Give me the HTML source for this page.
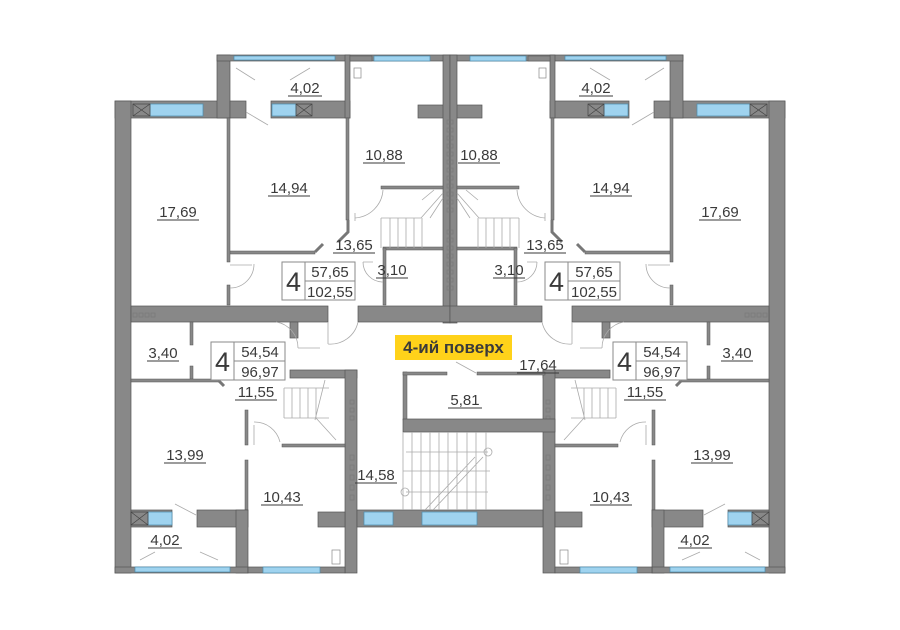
<!DOCTYPE html>
<html><head><meta charset="utf-8"><style>
html,body{margin:0;padding:0;background:#fff;}
svg{display:block;}
text{font-family:"Liberation Sans","DejaVu Sans",sans-serif;fill:#3a3a3a;}
.w{fill:#888;stroke:#555;stroke-width:0.7;}
.h{fill:#888;stroke:#555;stroke-width:0.5;}
.b{fill:#9fd3ef;stroke:#4a8db0;stroke-width:0.7;}
.l{stroke:#aaa;stroke-width:0.8;fill:none;}
.u{stroke:#3a3a3a;stroke-width:1;}
</style></head><body>
<svg width="900" height="630" viewBox="0 0 900 630" xmlns="http://www.w3.org/2000/svg">
<defs>
<g id="half">
  <rect class="w" x="115" y="101" width="115" height="17"/>
  <rect class="b" x="150" y="104" width="53" height="12"/>
  <rect x="133" y="104" width="17" height="12" fill="#888" stroke="#444" stroke-width="0.7"/>
  <path d="M133 104 L150 116 M150 104 L133 116" stroke="#444" stroke-width="0.7"/>
  <rect class="w" x="217" y="55" width="13" height="63"/>
  <rect class="w" x="217" y="55" width="233" height="6"/>
  <rect class="b" x="234" y="56" width="101" height="4"/>
  <rect class="w" x="230" y="101" width="16" height="17"/>
  <rect class="w" x="271" y="101" width="79" height="17"/>
  <rect class="b" x="272" y="104" width="24" height="12"/>
  <path d="M296 104 h16 v12 h-16 z M296 104 L312 116 M312 104 L296 116" stroke="#444" stroke-width="0.7" fill="none"/>
  <rect class="w" x="345" y="55" width="5" height="63"/>
  <rect class="h" x="346" y="118" width="3" height="102"/>
  <path d="M348 220 L348 232 L338 242" stroke="#777" stroke-width="3" fill="none"/>
  <line class="l" x1="246" y1="112" x2="268" y2="125"/>
  <path class="l" d="M236 68 L255 80 M290 80 L310 68"/>
  <rect class="b" x="374" y="56" width="56" height="5"/>
  <rect class="h" x="350" y="56" width="22" height="5"/>
  <rect class="w" x="418" y="105" width="32" height="13"/>
  <rect class="w" x="443" y="55" width="7" height="268"/>
  <rect x="354" y="68" width="7" height="10" fill="none" stroke="#888" stroke-width="0.7"/>
  <rect class="h" x="381" y="186" width="62" height="3"/>
  <rect class="h" x="383" y="247" width="60" height="3"/>
  <rect class="h" x="383" y="248" width="3" height="57"/>
  <path class="l" d="M381 218 h40 M381 218 v30 M390 218 v30 M398 218 v30 M406 218 v30 M414 218 v30 M422 218 v30 M430 218 l13 -20 M421 218 l22 -25 M422 200 l12 -10"/>
  <path class="l" d="M355 213 v8 M355 218 a30 30 0 0 0 28 -28"/>
  <rect class="h" x="229" y="251" width="86" height="3"/>
  <path d="M315 252 L323 244" stroke="#777" stroke-width="3"/>
  <rect class="h" x="227" y="118" width="3" height="144"/>
  <rect class="h" x="227" y="285" width="3" height="20"/>
  <path class="l" d="M230 265 h22 M230 288 a24 24 0 0 0 24 -24"/>
  <path class="l" d="M363 262 a20 20 0 0 0 20 20 M363 262 h10"/>
  <rect class="w" x="115" y="101" width="16" height="472"/>
  <rect class="w" x="131" y="306" width="197" height="16"/>
  <rect class="w" x="358" y="306" width="92" height="16"/>
  <rect class="h" x="190" y="322" width="3" height="23"/>
  <rect class="h" x="190" y="366" width="3" height="14"/>
  <rect class="h" x="131" y="379" width="88" height="3"/>
  <path d="M219 381 L224 386" stroke="#777" stroke-width="3"/>
  <rect class="w" x="290" y="322" width="8" height="16"/>
  <rect class="w" x="290" y="370" width="67" height="8"/>
  <rect class="w" x="345" y="370" width="12" height="203"/>
  <rect class="h" x="282" y="444" width="63" height="3"/>
  <path class="l" d="M284 388 h45 M284 388 v30 M292 388 v30 M300 388 v30 M308 388 v30 M316 388 v30 M284 418 h45 M316 418 l20 22 M325 380 l-10 40"/>
  <path class="l" d="M298 348 h22 M298 348 a26 26 0 0 0 -22 -26 M328 322 v22 M328 344 a28 28 0 0 0 30 -22"/>
  <rect class="h" x="245" y="410" width="3" height="35"/>
  <rect class="h" x="245" y="460" width="3" height="50"/>
  <path class="l" d="M254 425 v20 M254 422 a26 26 0 0 1 26 20"/>
  <rect class="w" x="131" y="510" width="41" height="17"/>
  <rect class="b" x="148" y="512" width="24" height="13"/>
  <path d="M131 512 h17 v13 h-17 z M131 512 L148 525 M148 512 L131 525" stroke="#444" stroke-width="0.7" fill="none"/>
  <rect class="w" x="197" y="510" width="51" height="17"/>
  <line class="l" x1="175" y1="504" x2="196" y2="515"/>
  <rect class="w" x="236" y="510" width="12" height="63"/>
  <rect class="w" x="115" y="567" width="133" height="6"/>
  <rect class="b" x="135" y="567" width="95" height="5"/>
  <path class="l" d="M140 560 L155 552 M200 552 L218 560"/>
  <rect class="w" x="248" y="567" width="97" height="6"/>
  <rect class="b" x="263" y="567" width="57" height="6"/>
  <rect class="w" x="318" y="512" width="27" height="15"/>
  <rect x="332" y="550" width="8" height="14" fill="#fff" stroke="#888" stroke-width="0.7"/>
  <g fill="none" stroke="#777" stroke-width="0.6">
    <rect x="350" y="400" width="4" height="4"/><rect x="350" y="408" width="4" height="4"/><rect x="350" y="416" width="4" height="4"/>
    <rect x="350" y="455" width="4" height="5"/><rect x="350" y="465" width="4" height="5"/><rect x="350" y="475" width="4" height="5"/><rect x="350" y="485" width="4" height="5"/><rect x="350" y="495" width="4" height="5"/>
    <rect x="133" y="313" width="4" height="4"/><rect x="139" y="313" width="4" height="4"/><rect x="145" y="313" width="4" height="4"/><rect x="151" y="313" width="4" height="4"/>
  </g>
</g>
</defs>
<use href="#half"/>
<use href="#half" transform="translate(900,0) scale(-1,1)"/>
<rect class="w" x="357" y="510" width="186" height="17"/>
<rect class="b" x="364" y="512" width="29" height="13"/>
<rect class="b" x="422" y="512" width="55" height="13"/>
<rect class="h" x="403" y="372" width="4" height="48"/>
<rect class="h" x="403" y="372" width="44" height="3"/>
<rect class="h" x="477" y="372" width="68" height="3"/>
<rect class="w" x="403" y="419" width="152" height="13"/>
<line class="l" x1="456" y1="362" x2="476" y2="373"/>
<g class="l">
  <path d="M403 432 v78 M412 432 v78 M421 432 v78 M430 432 v78 M439 432 v78 M448 432 v78 M457 432 v78 M467 432 v78 M476 432 v78 M486 432 v78 M403 471 h87 M406 452 h82 M406 492 h82 M425 510 l50 -53 M433 510 l50 -53"/>
  <circle cx="488" cy="452" r="4"/><circle cx="405" cy="492" r="4"/>
</g>
<g fill="none" stroke="#777" stroke-width="0.6">
  <rect x="447" y="120" width="6" height="4"/><rect x="447" y="128" width="6" height="4"/><rect x="447" y="136" width="6" height="4"/><rect x="447" y="144" width="6" height="4"/><rect x="447" y="152" width="6" height="4"/><rect x="447" y="160" width="6" height="4"/><rect x="447" y="168" width="6" height="4"/><rect x="447" y="176" width="6" height="4"/><rect x="447" y="184" width="6" height="4"/><rect x="447" y="192" width="6" height="4"/><rect x="447" y="200" width="6" height="4"/><rect x="447" y="208" width="6" height="4"/><rect x="447" y="230" width="6" height="4"/><rect x="447" y="238" width="6" height="4"/><rect x="447" y="246" width="6" height="4"/><rect x="447" y="254" width="6" height="4"/><rect x="447" y="262" width="6" height="4"/><rect x="447" y="270" width="6" height="4"/><rect x="447" y="278" width="6" height="4"/><rect x="447" y="286" width="6" height="4"/>
</g>
<g fill="#fff" stroke="#8a8a8a" stroke-width="1">
  <rect x="282" y="262" width="73" height="38"/><line x1="305" y1="262" x2="305" y2="300"/><line x1="305" y1="281" x2="355" y2="281"/>
  <rect x="545" y="262" width="75" height="38"/><line x1="568" y1="262" x2="568" y2="300"/><line x1="568" y1="281" x2="620" y2="281"/>
  <rect x="211" y="342" width="74" height="38"/><line x1="234" y1="342" x2="234" y2="380"/><line x1="234" y1="361" x2="285" y2="361"/>
  <rect x="613" y="342" width="74" height="38"/><line x1="636" y1="342" x2="636" y2="380"/><line x1="636" y1="361" x2="687" y2="361"/>
</g>
<g font-size="27" text-anchor="middle">
  <text x="293.5" y="291">4</text><text x="556.5" y="291">4</text><text x="222.5" y="371">4</text><text x="624.5" y="371">4</text>
</g>
<g font-size="15" text-anchor="middle">
  <text x="330" y="277">57,65</text><text x="330" y="297">102,55</text>
  <text x="594" y="277">57,65</text><text x="594" y="297">102,55</text>
  <text x="260" y="357">54,54</text><text x="260" y="377">96,97</text>
  <text x="662" y="357">54,54</text><text x="662" y="377">96,97</text>
</g>
<g font-size="15" text-anchor="middle">
  <text x="305" y="93">4,02</text><text x="596" y="93">4,02</text>
  <text x="289" y="193">14,94</text><text x="611" y="193">14,94</text>
  <text x="384" y="160">10,88</text><text x="479" y="160">10,88</text>
  <text x="178" y="217">17,69</text><text x="720" y="217">17,69</text>
  <text x="354" y="250">13,65</text><text x="545" y="250">13,65</text>
  <text x="392" y="275">3,10</text><text x="509" y="275">3,10</text>
  <text x="163" y="358">3,40</text><text x="737" y="358">3,40</text>
  <text x="256" y="397">11,55</text><text x="645" y="397">11,55</text>
  <text x="185" y="460">13,99</text><text x="712" y="460">13,99</text>
  <text x="282" y="502">10,43</text><text x="611" y="502">10,43</text>
  <text x="165" y="545">4,02</text><text x="695" y="545">4,02</text>
  <text x="376" y="480">14,58</text>
  <text x="465" y="405">5,81</text>
  <text x="538" y="370">17,64</text>
</g>
<g class="u">
  <line x1="288" y1="96" x2="322" y2="96"/><line x1="579" y1="96" x2="613" y2="96"/>
  <line x1="268" y1="196" x2="310" y2="196"/><line x1="590" y1="196" x2="632" y2="196"/>
  <line x1="363" y1="163" x2="405" y2="163"/><line x1="458" y1="163" x2="500" y2="163"/>
  <line x1="157" y1="220" x2="199" y2="220"/><line x1="699" y1="220" x2="741" y2="220"/>
  <line x1="333" y1="253" x2="375" y2="253"/><line x1="524" y1="253" x2="566" y2="253"/>
  <line x1="376" y1="278" x2="408" y2="278"/><line x1="493" y1="278" x2="525" y2="278"/>
  <line x1="147" y1="361" x2="179" y2="361"/><line x1="721" y1="361" x2="753" y2="361"/>
  <line x1="235" y1="400" x2="277" y2="400"/><line x1="624" y1="400" x2="666" y2="400"/>
  <line x1="164" y1="463" x2="206" y2="463"/><line x1="691" y1="463" x2="733" y2="463"/>
  <line x1="261" y1="505" x2="303" y2="505"/><line x1="590" y1="505" x2="632" y2="505"/>
  <line x1="148" y1="548" x2="182" y2="548"/><line x1="678" y1="548" x2="712" y2="548"/>
  <line x1="355" y1="483" x2="397" y2="483"/><line x1="448" y1="408" x2="482" y2="408"/>
  <line x1="517" y1="373" x2="559" y2="373"/>
</g>
<rect x="395" y="335" width="117" height="25" fill="#ffd21a"/>
<text x="453.5" y="353" font-size="17" font-weight="bold" text-anchor="middle" fill="#222">4-ий поверх</text>
</svg>
</body></html>
